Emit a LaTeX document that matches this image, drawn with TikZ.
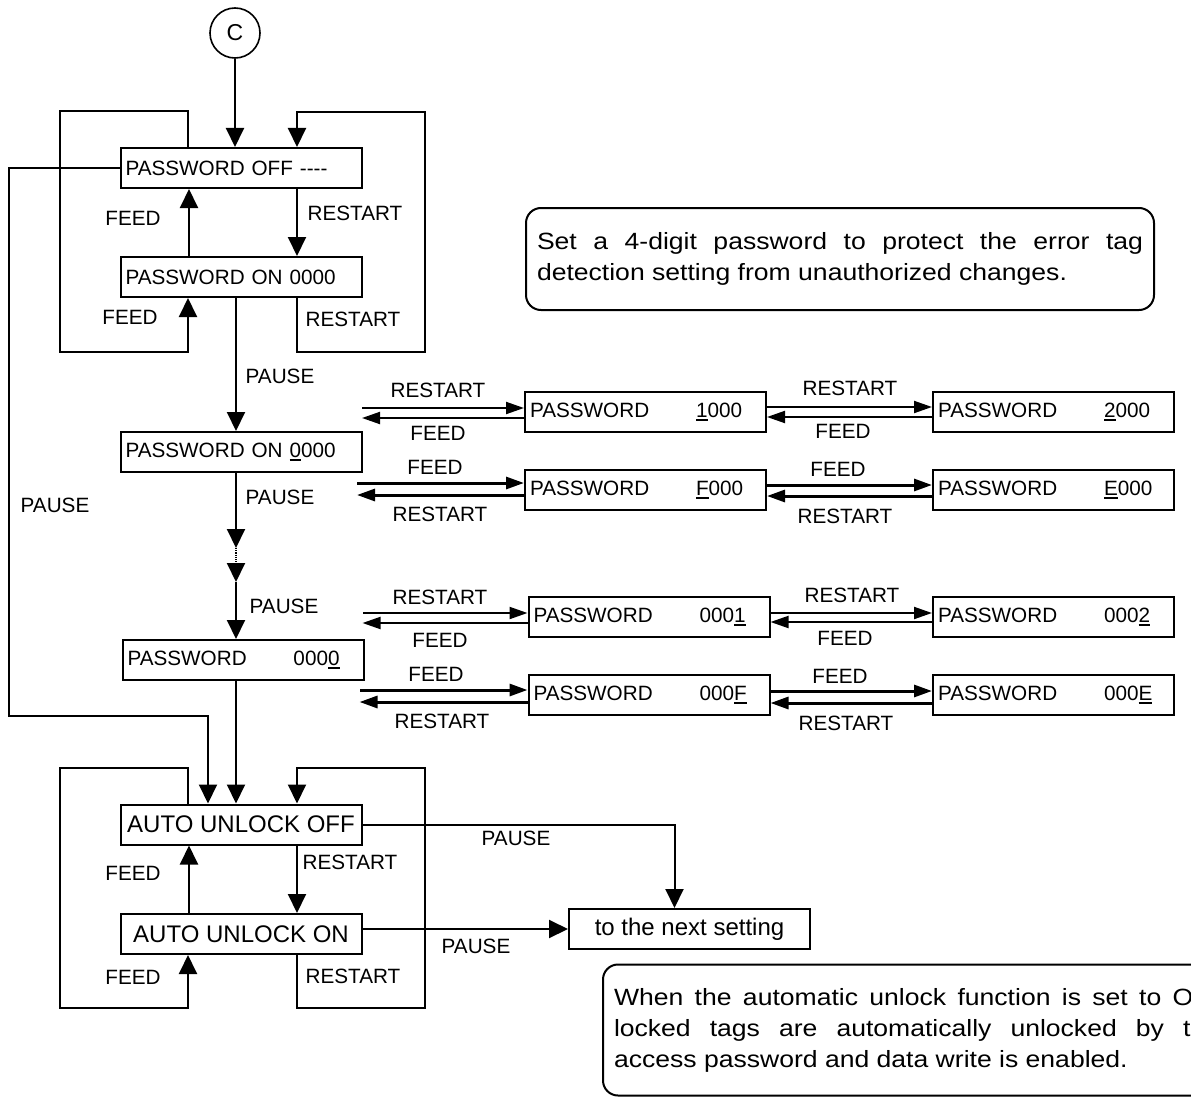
\documentclass[tikz,border=0pt]{standalone}
\usepackage{fontspec}
\setmainfont{Liberation Sans}
\newfontfamily\notefont[FakeStretch=1.13]{Liberation Sans}
\usetikzlibrary{arrows.meta}
\newcommand{\udig}[1]{\setbox0\hbox{#1}\rlap{\rule[-3pt]{\wd0}{1.6pt}}#1}
\newcommand{\pw}[1]{\makebox[166pt][l]{PASSWORD}#1}

\begin{document}
\begin{tikzpicture}[
  x=1pt,y=-1pt,
  line width=2pt,
  font=\fontsize{20.7}{24}\selectfont,
  box/.style={draw,minimum width=241pt,minimum height=40pt,text width=231pt,inner xsep=5pt,inner ysep=0pt,align=left},
  autobox/.style={draw,minimum width=241pt,minimum height=40pt,inner sep=0pt,font=\fontsize{24}{28}\selectfont},
  note/.style={draw,rounded corners=15pt,text width=606pt,inner xsep=11pt,align=justify,font=\notefont\fontsize{23.5}{31}\selectfont},
  lbl/.style={inner sep=0pt},
  arrow/.style={-{Triangle[length=19pt,width=18pt]}},
  tip/.style={-{Triangle[length=18pt,width=12pt]}},
  tipin/.style={{Triangle[length=18pt,width=12pt]}-},
  bold/.style={line width=3pt}
]
  \useasboundingbox (0,0) rectangle (1191,1097);
  \clip (0,0) rectangle (1191,1097);

  % guide lines for the vertical connectors
  \coordinate (spine) at (236,0);
  \coordinate (fx) at (189,0);
  \coordinate (lx) at (188,0);
  \coordinate (rx) at (297,0);
  \coordinate (px) at (208,0);
  \coordinate (d1) at (236,548);
  \coordinate (d2) at (236,563);
  \coordinate (d3) at (236,582);

  % password part
  \node[draw,circle,minimum size=50pt,inner sep=0pt,line width=1.6pt,font=\fontsize{23}{26}\selectfont] (c) at (235,33) {C};
  \node[box] (pwoff) at (241,168) {PASSWORD OFF -{}-{}-{}-};
  \node[box] (pwon) at (241,277) {PASSWORD ON 0000};
  \node[box] (dig1) at (241,452) {PASSWORD ON \udig{0}000};
  \node[box] (dig4) at (243,660) {\pw{000\udig{0}}};

  \node[box] (p1000) at (645.5,412) {\pw{\udig{1}000}};
  \node[box] (p2000) at (1053.5,412) {\pw{\udig{2}000}};
  \node[box] (pF000) at (645.5,490) {\pw{\udig{F}000}};
  \node[box] (pE000) at (1053.5,490) {\pw{\udig{E}000}};
  \node[box] (p0001) at (649,617) {\pw{000\udig{1}}};
  \node[box] (p0002) at (1053.5,617) {\pw{000\udig{2}}};
  \node[box] (p000F) at (649,695) {\pw{000\udig{F}}};
  \node[box] (p000E) at (1053.5,695) {\pw{000\udig{E}}};

  % auto unlock part
  \node[autobox] (auoff) at (241,824.5) {AUTO UNLOCK OFF};
  \node[autobox] (auon) at (241,934) {AUTO UNLOCK ON};
  \node[autobox] (next) at (689.5,929) {to the next setting};

  % notes
  \node[note,minimum height=102pt] (note1) at (840,259)
    {Set a 4-digit password to protect the error tag\linebreak detection setting from unauthorized changes.};
  \node[note,minimum height=131pt] (note2) at (917,1030)
    {When the automatic unlock function is set to ON,\linebreak locked tags are automatically unlocked by the\linebreak access password and data write is enabled.};

  % labels
  \node[lbl] (lfeed1) at (133,218) {FEED};
  \node[lbl] (lrst1) at (355,213) {RESTART};
  \node[lbl] (lfeed2) at (130,317) {FEED};
  \node[lbl] (lrst2) at (353,319) {RESTART};
  \node[lbl] (lpause0) at (55,505) {PAUSE};
  \node[lbl] (lpause1) at (280,376) {PAUSE};
  \node[lbl] (lpause2) at (280,497) {PAUSE};
  \node[lbl] (lpause3) at (284,606) {PAUSE};

  \node[lbl] (r1a) at (438,390) {RESTART};
  \node[lbl] (r1b) at (438,433) {FEED};
  \node[lbl] (r1c) at (850,388) {RESTART};
  \node[lbl] (r1d) at (843,431) {FEED};
  \node[lbl] (r2a) at (435,467) {FEED};
  \node[lbl] (r2b) at (440,514) {RESTART};
  \node[lbl] (r2c) at (838,469) {FEED};
  \node[lbl] (r2d) at (845,516) {RESTART};
  \node[lbl] (r3a) at (440,597) {RESTART};
  \node[lbl] (r3b) at (440,640) {FEED};
  \node[lbl] (r3c) at (852,595) {RESTART};
  \node[lbl] (r3d) at (845,638) {FEED};
  \node[lbl] (r4a) at (436,674) {FEED};
  \node[lbl] (r4b) at (442,721) {RESTART};
  \node[lbl] (r4c) at (840,676) {FEED};
  \node[lbl] (r4d) at (846,723) {RESTART};

  \node[lbl] (lfeed3) at (133,873) {FEED};
  \node[lbl] (lrst3) at (350,862) {RESTART};
  \node[lbl] (lfeed4) at (133,977) {FEED};
  \node[lbl] (lrst4) at (353,976) {RESTART};
  \node[lbl] (lpause4) at (516,838) {PAUSE};
  \node[lbl] (lpause5) at (476,946) {PAUSE};

  % password on/off loop
  \draw[arrow] (c) -- (c |- pwoff.north);
  \draw[arrow] (lx |- pwoff.north) |- (60,111) |- (188,352) -- (lx |- pwon.south);
  \draw[arrow] (rx |- pwon.south) |- (425,352) |- (297,112) -- (rx |- pwoff.north);
  \draw[arrow] (fx |- pwon.north) -- (fx |- pwoff.south);
  \draw[arrow] (rx |- pwoff.south) -- (rx |- pwon.north);

  % digit entry
  \draw[arrow] (spine |- pwon.south) -- (spine |- dig1.north);
  \draw[arrow] (spine |- dig1.south) -- (d1);
  \draw[densely dotted,line width=1.2pt] (d1) -- (d2);
  \draw[arrow] (d2) -- (d3);
  \draw[arrow] (d3) -- (spine |- dig4.north);
  \draw[arrow] (spine |- dig4.south) -- (spine |- auoff.north);
  \draw[arrow] (pwoff.west) -| (9,716) -| (px |- auoff.north);

  % digit rows
  \draw[tipin] ([yshift=4pt]p1000.west) -- ++(-162,0);
  \draw[tip] ([yshift=-6pt]p1000.west) -- ++(-162,0);
  \draw[tip] ([yshift=5pt]p1000.east) -- ([yshift=5pt]p2000.west);
  \draw[tip] ([yshift=-5pt]p2000.west) -- ([yshift=-5pt]p1000.east);

  \draw[tipin,bold] ([yshift=7pt]pF000.west) -- ++(-167,0);
  \draw[tip,bold] ([yshift=-5pt]pF000.west) -- ++(-167,0);
  \draw[tip,bold] ([yshift=5pt]pF000.east) -- ([yshift=5pt]pE000.west);
  \draw[tip,bold] ([yshift=-6pt]pE000.west) -- ([yshift=-6pt]pF000.east);

  \draw[tipin] ([yshift=4pt]p0001.west) -- ++(-165,0);
  \draw[tip] ([yshift=-6pt]p0001.west) -- ++(-165,0);
  \draw[tip] ([yshift=4pt]p0001.east) -- ([yshift=4pt]p0002.west);
  \draw[tip] ([yshift=-5pt]p0002.west) -- ([yshift=-5pt]p0001.east);

  \draw[tipin,bold] ([yshift=5pt]p000F.west) -- ++(-168,0);
  \draw[tip,bold] ([yshift=-7pt]p000F.west) -- ++(-168,0);
  \draw[tip,bold] ([yshift=4pt]p000F.east) -- ([yshift=4pt]p000E.west);
  \draw[tip,bold] ([yshift=-8pt]p000E.west) -- ([yshift=-8pt]p000F.east);

  % auto unlock loop
  \draw[arrow] (lx |- auoff.north) |- (60,768) |- (188,1008) -- (lx |- auon.south);
  \draw[arrow] (rx |- auon.south) |- (425,1008) |- (297,768) -- (rx |- auoff.north);
  \draw[arrow] (fx |- auon.north) -- (fx |- auoff.south);
  \draw[arrow] (rx |- auoff.south) -- (rx |- auon.north);
  \draw[arrow] (auoff.east) -| ([xshift=-15pt]next.north);
  \draw[arrow] ([yshift=5pt]auon.east) -- (next.west);
\end{tikzpicture}
\end{document}
